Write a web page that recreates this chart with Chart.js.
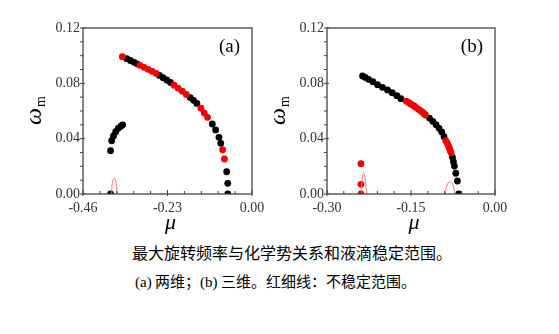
<!DOCTYPE html>
<html>
<head>
<meta charset="utf-8">
<script src="https://cdn.jsdelivr.net/npm/chart.js@4.4.0/dist/chart.umd.min.js"></script>
<style>
body { margin: 0; background: #fff; width: 559px; height: 334px; position: relative; overflow: hidden; }
.panel { position: absolute; top: 0; height: 240px; }
#cajaA { left: 0; width: 272px; }
#cajaB { left: 244px; width: 275px; }
.pie { position: absolute; font-family: "Noto Sans CJK SC", sans-serif; color: #000; white-space: nowrap; line-height: 1; }
.pie span { font-family: "Liberation Serif", serif; }
</style>
</head>
<body>
<div class="panel" id="cajaA"><canvas id="graficoA"></canvas></div>
<div class="panel" id="cajaB"><canvas id="graficoB"></canvas></div>
<div class="pie" style="left:132px; top:244px; font-size:16px;">最大旋转频率与化学势关系和液滴稳定范围。</div>
<div class="pie" style="left:135px; top:273px; font-size:15px;"><span>(a)</span> 两维；<span>(b)</span> 三维。红细线：不稳定范围。</div>

<script>
// Ejes
const ticksXA = [-0.46, -0.23, 0.00];
const ticksXB = [-0.30, -0.15, 0.00];
const ticksY = [0.00, 0.04, 0.08, 0.12];

// Panel (a): puntos negros y rojos
const muNegroA = [-0.385, -0.385, -0.382, -0.377, -0.371, -0.364, -0.357, -0.352,
    -0.341, -0.331, -0.321, -0.313,
    -0.252, -0.242, -0.232, -0.222,
    -0.168, -0.159, -0.150,
    -0.108, -0.099, -0.090, -0.085,
    -0.069, -0.066, -0.066];
const wNegroA = [0.0000, 0.0313, 0.0385, 0.0420, 0.0450, 0.0475, 0.0490, 0.0500,
    0.0978, 0.0965, 0.0952, 0.0941,
    0.0857, 0.0841, 0.0824, 0.0806,
    0.0697, 0.0677, 0.0655,
    0.0506, 0.0463, 0.0410, 0.0366,
    0.0161, 0.0077, 0.0000];
const muRojoA = [-0.353,
    -0.305, -0.294, -0.283, -0.272, -0.261,
    -0.212, -0.201, -0.190, -0.179,
    -0.139, -0.130, -0.121,
    -0.080, -0.075];
const wRojoA = [0.0993,
    0.0930, 0.0916, 0.0901, 0.0887, 0.0872,
    0.0786, 0.0765, 0.0743, 0.0720,
    0.0620, 0.0585, 0.0554,
    0.0320, 0.0253];
// linea roja fina (a)
const muCurvaA = [-0.382, -0.381, -0.379, -0.3748, -0.371, -0.369, -0.3667];
const wCurvaA = [0.0000, 0.0060, 0.0095, 0.0113, 0.0095, 0.0060, 0.0000];

// Panel (b)
const muNegroB = [-0.2365, -0.2317, -0.2258, -0.2180, -0.2098, -0.2010, -0.1920, -0.1836, -0.1752, -0.1681,
    -0.1170, -0.1110, -0.1052, -0.0998, -0.0950, -0.0910,
    -0.0760, -0.0742, -0.0725, -0.0700, -0.0672, -0.0647];
const wNegroB = [0.0853, 0.0843, 0.0829, 0.0812, 0.0790, 0.0771, 0.0752, 0.0732, 0.0711, 0.0689,
    0.0549, 0.0525, 0.0501, 0.0475, 0.0448, 0.0414,
    0.0265, 0.0234, 0.0202, 0.0150, 0.0094, 0.0000];
const muRojoB = [-0.2394, -0.2394, -0.2394,
    -0.1586, -0.1550, -0.1515, -0.1480, -0.1444, -0.1410, -0.1373, -0.1337, -0.1301, -0.1270, -0.1242,
    -0.0879, -0.0860, -0.0843, -0.0828, -0.0814, -0.0800, -0.0784];
const wRojoB = [0.0219, 0.0070, 0.0000,
    0.0672, 0.0663, 0.0653, 0.0645, 0.0636, 0.0625, 0.0614, 0.0604, 0.0593, 0.0582, 0.0571,
    0.0385, 0.0372, 0.0359, 0.0345, 0.0330, 0.0315, 0.0299];
const muCurvaB1 = [-0.2394, -0.2380, -0.2365, -0.2347, -0.2325, -0.2310, -0.2287];
const wCurvaB1 = [0.0000, 0.0080, 0.0130, 0.0150, 0.0130, 0.0070, 0.0000];
const muCurvaB2 = [-0.0890, -0.0860, -0.0825, -0.0797, -0.0770, -0.0740, -0.0713];
const wCurvaB2 = [0.0000, 0.0060, 0.0085, 0.0089, 0.0082, 0.0050, 0.0000];

const serif = '"Liberation Serif", "DejaVu Serif", serif';

function puntos(xs, ys) {
    return xs.map((x, i) => ({ x: x, y: ys[i] }));
}

function datosPuntos(xs, ys, color) {
    return { data: puntos(xs, ys), backgroundColor: color, borderWidth: 0, pointRadius: 3.4, showLine: false };
}

function datosCurva(xs, ys) {
    return { data: puntos(xs, ys), borderColor: '#f07878', borderWidth: 1, pointRadius: 0, showLine: true, tension: 0.4, fill: false };
}

// Marco, marcas menores, titulos de ejes y etiqueta del panel
const marco = {
    id: 'marco',
    afterDraw(chart, args, opts) {
        const ctx = chart.ctx;
        const a = chart.chartArea;
        const sx = chart.scales.x, sy = chart.scales.y;
        ctx.save();
        ctx.strokeStyle = '#444';
        ctx.lineWidth = 1.3;
        ctx.strokeRect(a.left, a.top, a.right - a.left, a.bottom - a.top);

        ctx.lineWidth = 1;
        const tx = sx.ticks.map(t => t.value);
        for (let i = 0; i < tx.length; i++) {
            const p = sx.getPixelForValue(tx[i]);
            ctx.beginPath(); ctx.moveTo(p, a.bottom + 2); ctx.lineTo(p, a.bottom - 4); ctx.stroke();
            if (i < tx.length - 1) {
                for (let k = 1; k < 5; k++) {
                    const q = sx.getPixelForValue(tx[i] + (tx[i + 1] - tx[i]) * k / 5);
                    ctx.beginPath(); ctx.moveTo(q, a.bottom); ctx.lineTo(q, a.bottom - 3); ctx.stroke();
                }
            }
        }
        const ty = sy.ticks.map(t => t.value);
        for (let i = 0; i < ty.length; i++) {
            const p = sy.getPixelForValue(ty[i]);
            ctx.beginPath(); ctx.moveTo(a.left - 3, p); ctx.lineTo(a.left + 2, p); ctx.stroke();
            if (i < ty.length - 1) {
                for (let k = 1; k < 4; k++) {
                    const q = sy.getPixelForValue(ty[i] + (ty[i + 1] - ty[i]) * k / 4);
                    ctx.beginPath(); ctx.moveTo(a.left - 3, q); ctx.lineTo(a.left, q); ctx.stroke();
                }
            }
        }

        ctx.fillStyle = '#000';
        ctx.font = 'italic 22px ' + serif;
        ctx.textAlign = 'center';
        ctx.textBaseline = 'alphabetic';
        ctx.fillText('μ', (a.left + a.right) / 2 + 3, 229);

        ctx.font = '19px ' + serif;
        ctx.textAlign = 'right';
        ctx.fillText(opts.etiqueta, a.right - 12, a.top + 24);

        ctx.translate(a.left - 42, (a.top + a.bottom) / 2 + 14);
        ctx.rotate(-Math.PI / 2);
        ctx.textAlign = 'left';
        ctx.font = 'italic 24px ' + serif;
        ctx.fillText('ω', 0, 0);
        const w = ctx.measureText('ω').width;
        ctx.font = '14px ' + serif;
        ctx.fillText('m', w + 1, 4);
        ctx.restore();
    }
};

function crearGrafico(id, ticksX, datasets, etiqueta, derecha) {
    const ctx = document.getElementById(id).getContext('2d');
    return new Chart(ctx, {
        type: 'scatter',
        data: { datasets: datasets },
        options: {
            responsive: true,
            maintainAspectRatio: false,
            animation: false,
            layout: { padding: { top: 28, right: derecha, left: 0, bottom: 0 } },
            plugins: { legend: { display: false }, tooltip: { enabled: false }, marco: { etiqueta: etiqueta } },
            scales: {
                x: {
                    type: 'linear',
                    min: ticksX[0], max: ticksX[ticksX.length - 1],
                    grid: { display: false, drawTicks: false },
                    border: { display: false },
                    afterBuildTicks: s => { s.ticks = ticksX.map(v => ({ value: v })); },
                    afterFit: s => { s.height = 46; s.paddingLeft = 0; s.paddingRight = 0; },
                    ticks: { padding: 6, color: '#333', font: { family: serif, size: 14 }, maxRotation: 0,
                        callback: v => v.toFixed(2) }
                },
                y: {
                    type: 'linear',
                    min: 0, max: 0.12,
                    grid: { display: false, drawTicks: false },
                    border: { display: false },
                    afterBuildTicks: s => { s.ticks = ticksY.map(v => ({ value: v })); },
                    afterFit: s => { s.width = 83; s.paddingTop = 0; s.paddingBottom = 0; },
                    ticks: { padding: 3, color: '#333', font: { family: serif, size: 14 },
                        callback: v => v.toFixed(2) }
                }
            }
        },
        plugins: [marco]
    });
}

crearGrafico('graficoA', ticksXA, [
    datosCurva(muCurvaA, wCurvaA),
    datosPuntos(muRojoA, wRojoA, '#f00000'),
    datosPuntos(muNegroA, wNegroA, '#000000')
], '(a)', 20);

crearGrafico('graficoB', ticksXB, [
    datosCurva(muCurvaB1, wCurvaB1),
    datosCurva(muCurvaB2, wCurvaB2),
    datosPuntos(muRojoB, wRojoB, '#f00000'),
    datosPuntos(muNegroB, wNegroB, '#000000')
], '(b)', 24);
</script>
</body>
</html>
